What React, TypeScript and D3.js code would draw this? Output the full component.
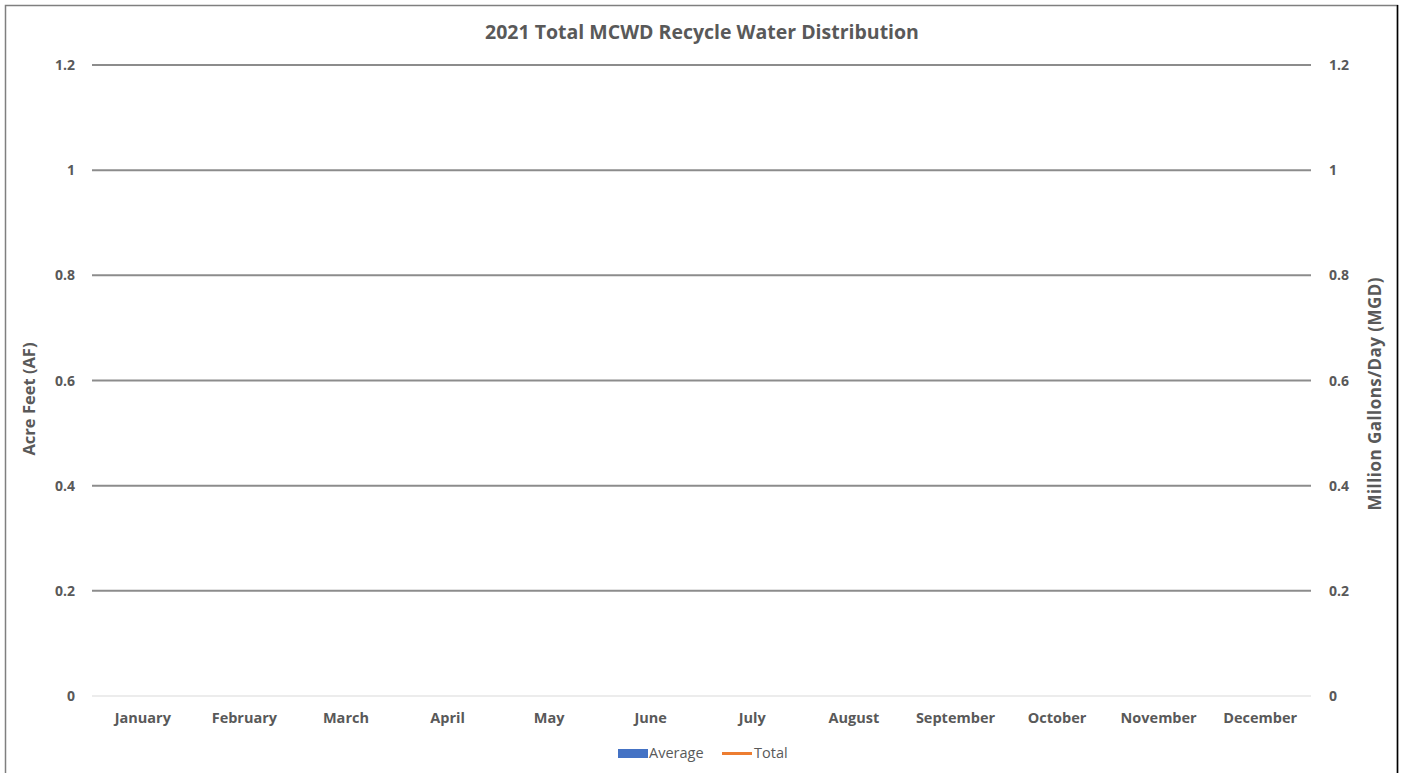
import React from "react";
import * as d3 from "d3";

const months = ["January","February","March","April","May","June","July","August","September","October","November","December"];
const averageValues: (number | null)[] = [null,null,null,null,null,null,null,null,null,null,null,null];
const totalValues: (number | null)[] = [null,null,null,null,null,null,null,null,null,null,null,null];
const leftTicks = [0, 0.2, 0.4, 0.6, 0.8, 1, 1.2];
const rightTicks = [0, 0.2, 0.4, 0.6, 0.8, 1, 1.2];

const W = 1403, H = 773;
const M = { left: 92, right: 1311, top: 65, bottom: 696 };
const FONT = "'Open Sans', sans-serif";
const TXT = "#595959";

export default function App() {
  const x = d3.scaleBand<string>().domain(months).range([M.left, M.right]);
  const yL = d3.scaleLinear().domain([0, 1.2]).range([M.bottom, M.top]);
  const yR = d3.scaleLinear().domain([0, 1.2]).range([M.bottom, M.top]);
  const line = d3.line<number | null>()
    .defined((d) => d != null)
    .x((_, i) => (x(months[i]) as number) + x.bandwidth() / 2)
    .y((d) => yR(d as number));
  const totalPath = line(totalValues);
  return (
    <svg width={W} height={H} style={{ position: "absolute", left: 0, top: 0, background: "#fff" }}>
      <rect x={5.5} y={5.5} width={1392} height={790} fill="#fff" stroke="#7f7f7f" strokeWidth={1.5} />
      <line x1={1397.5} y1={5} x2={1397.5} y2={H} stroke="#000" strokeWidth={1.5} />
      <text x={702} y={39} textAnchor="middle" fontFamily={FONT} fontWeight="bold" fontSize={19.5} fill={TXT}>
        2021 Total MCWD Recycle Water Distribution
      </text>
      {leftTicks.map((t) => (
        <line key={"g" + t} x1={M.left} x2={M.right} y1={yL(t)} y2={yL(t)}
          stroke={t === 0 ? "#d9d9d9" : "#8c8c8c"} strokeWidth={t === 0 ? 1 : 2} />
      ))}
      {leftTicks.map((t) => (
        <text key={"l" + t} x={75} y={yL(t) + 5} textAnchor="end" fontFamily={FONT} fontWeight="bold" fontSize={14} fill={TXT}>
          {String(t)}
        </text>
      ))}
      {rightTicks.map((t) => (
        <text key={"r" + t} x={1329} y={yR(t) + 5} textAnchor="start" fontFamily={FONT} fontWeight="bold" fontSize={14} fill={TXT}>
          {String(t)}
        </text>
      ))}
      {months.map((m) => (
        <text key={m} x={(x(m) as number) + x.bandwidth() / 2} y={723} textAnchor="middle" fontFamily={FONT} fontWeight="bold" fontSize={14.5} fill={TXT}>
          {m}
        </text>
      ))}
      {averageValues.map((v, i) => v == null ? null : (
        <rect key={"b" + i} x={(x(months[i]) as number) + x.bandwidth() * 0.2} width={x.bandwidth() * 0.6}
          y={yL(v)} height={yL(0) - yL(v)} fill="#4472c4" />
      ))}
      {totalPath && <path d={totalPath} fill="none" stroke="#ed7d31" strokeWidth={2.5} />}
      <text transform={`translate(35,399) rotate(-90)`} textAnchor="middle" fontFamily={FONT} fontWeight="bold" fontSize={16.5} fill={TXT}>
        Acre Feet (AF)
      </text>
      <text transform={`translate(1381,394) rotate(-90)`} textAnchor="middle" fontFamily={FONT} fontWeight="bold" fontSize={17} textLength={233} lengthAdjust="spacing" fill={TXT}>
        Million Gallons/Day (MGD)
      </text>
      <rect x={618} y={749} width={30} height={9} fill="#4472c4" />
      <text x={649} y={758} fontFamily={FONT} fontSize={14.5} fill={TXT}>Average</text>
      <line x1={722} x2={752} y1={753.5} y2={753.5} stroke="#ed7d31" strokeWidth={3} />
      <text x={754} y={758} fontFamily={FONT} fontSize={14.5} fill={TXT}>Total</text>
    </svg>
  );
}
